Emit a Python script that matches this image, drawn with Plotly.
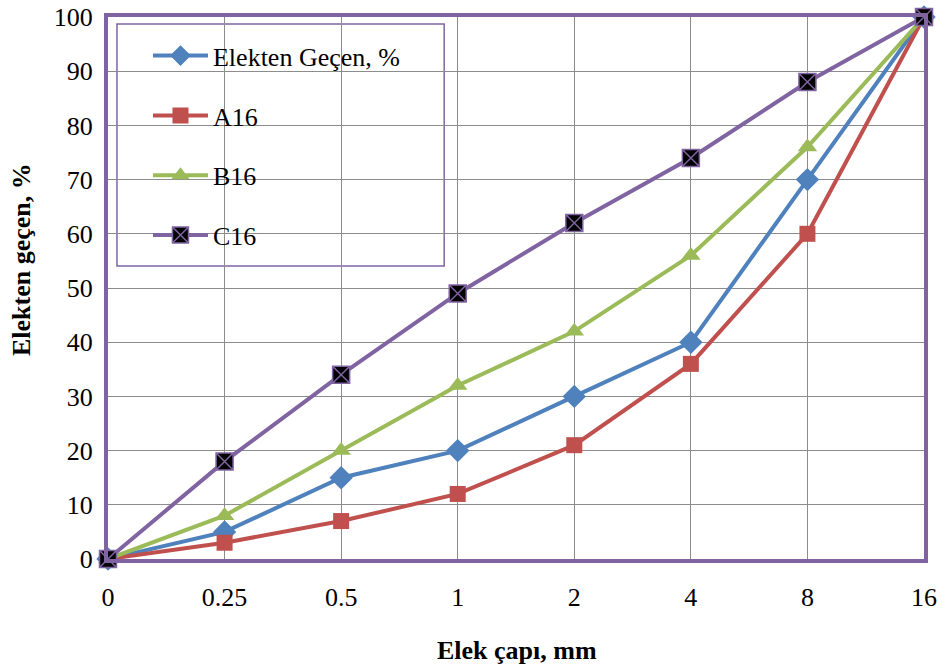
import plotly.graph_objects as go

categories = ["0", "0.25", "0.5", "1", "2", "4", "8", "16"]
elekten = [0, 5, 15, 20, 30, 40, 70, 100]
a16 = [0, 3, 7, 12, 21, 36, 60, 100]
b16 = [0, 8, 20, 32, 42, 56, 76, 100]
c16 = [0, 18, 34, 49, 62, 74, 88, 100]
y_ticks = list(range(0, 101, 10))

FONT = "Liberation Serif"
PURPLE = "#8064A2"
FS = 26

fig = go.Figure()
series = [
    ("Elekten Geçen, %", elekten, "#4F81BD", dict(symbol="diamond", size=18, color="#4F81BD")),
    ("A16", a16, "#C0504D", dict(symbol="square", size=16, color="#C0504D")),
    ("B16", b16, "#9BBB59", dict(symbol="triangle-up", size=17, color="#9BBB59")),
    ("C16", c16, PURPLE, dict(symbol="square-x", size=17, color="black",
                                line=dict(color=PURPLE, width=1.5))),
]
for i, (name, vals, col, mk) in enumerate(series):
    fig.add_trace(go.Scatter(
        x=categories, y=vals, name=name, mode="lines+markers",
        line=dict(color=col, width=4), marker=mk, legendgroup=f"g{i}",
        cliponaxis=False,
    ))

fig.add_shape(type="rect", xref="paper", yref="paper",
              x0=0.011, x1=0.412, y0=0.5406, y1=0.987,
              line=dict(color=PURPLE, width=1.5), fillcolor="white", layer="between")

fig.add_annotation(text="<b>Elek çapı, mm</b>", xref="paper", yref="paper",
                   x=(517 - 108) / 816, y=-(650 - 559) / 542, showarrow=False,
                   xanchor="center", yanchor="middle",
                   font=dict(family=FONT, size=FS, color="black"))
fig.add_annotation(text="<b>Elekten geçen, %</b>", xref="paper", yref="paper",
                   x=-(108 - 21) / 816, y=1 - (260 - 17) / 542, showarrow=False,
                   xanchor="center", yanchor="middle", textangle=-90,
                   font=dict(family=FONT, size=FS, color="black"))

fig.update_layout(
    width=942, height=666,
    margin=dict(l=108, r=18, t=17, b=107),
    paper_bgcolor="white", plot_bgcolor="white",
    font=dict(family=FONT, size=FS, color="black"),
    showlegend=True,
    legend=dict(x=0.049, y=0.972, xanchor="left", yanchor="top",
                bgcolor="rgba(0,0,0,0)", borderwidth=0,
                tracegroupgap=23, traceorder="grouped", itemwidth=55,
                font=dict(family=FONT, size=FS)),
    xaxis=dict(type="category", range=[0, 7], showgrid=True, gridcolor="#8C8C8C",
               gridwidth=1, showline=True, mirror=True, linecolor=PURPLE, linewidth=4,
               ticks="", ticklabelstandoff=12, automargin=False,
               tickfont=dict(family=FONT, size=FS)),
    yaxis=dict(range=[0, 100], tickvals=y_ticks, showgrid=True, gridcolor="#8C8C8C",
               gridwidth=1, showline=True, mirror=True, linecolor=PURPLE, linewidth=4,
               ticks="", ticklabelstandoff=6, automargin=False,
               tickfont=dict(family=FONT, size=FS), zeroline=False),
)

fig.write_html("out.html")
